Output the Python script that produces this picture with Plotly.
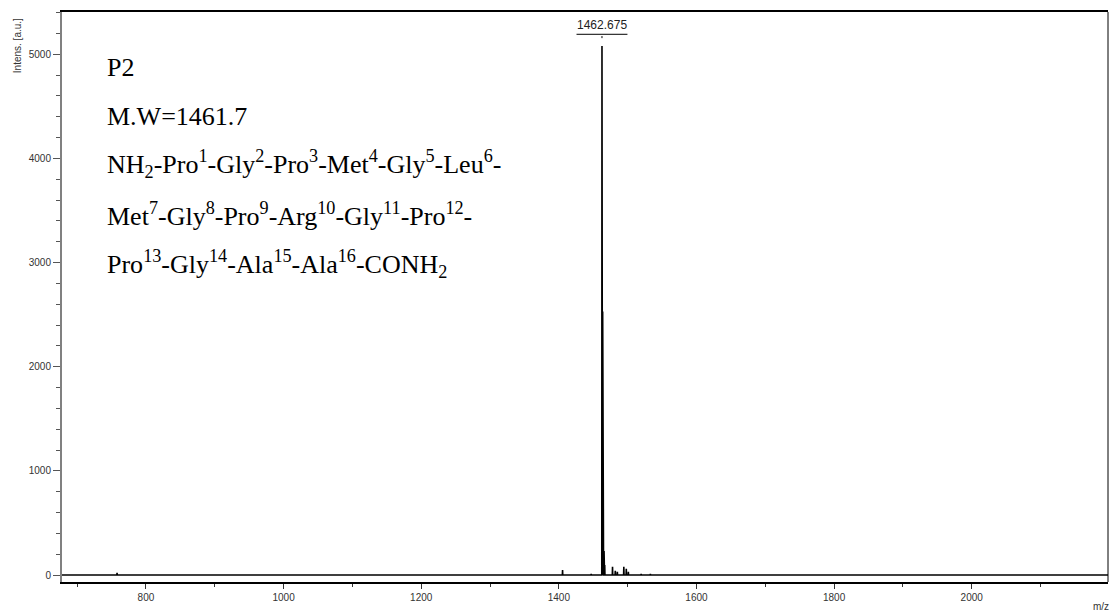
import plotly.graph_objects as go

# ---- data ----
peak_mz = [758.0, 1405.4, 1447.0, 1462.675, 1463.68, 1464.68, 1465.68, 1466.68,
           1478.0, 1482.0, 1485.0, 1494.4, 1498.0, 1501.0, 1519.6, 1533.0]
peak_int = [20, 48, 12, 5080, 2530, 1010, 230, 95,
            80, 40, 30, 80, 60, 30, 12, 10]
mz_range = [678, 2198]
int_range = [-67, 5406]
labelled_peak = "1462.675"
labelled_peak_mz = 1462.675
labelled_peak_int = 5080

text_lines = [
    "P2",
    "M.W=1461.7",
    "NH<sub>2</sub>-Pro<sup>1</sup>-Gly<sup>2</sup>-Pro<sup>3</sup>-Met<sup>4</sup>-Gly<sup>5</sup>-Leu<sup>6</sup>-",
    "Met<sup>7</sup>-Gly<sup>8</sup>-Pro<sup>9</sup>-Arg<sup>10</sup>-Gly<sup>11</sup>-Pro<sup>12</sup>-",
    "Pro<sup>13</sup>-Gly<sup>14</sup>-Ala<sup>15</sup>-Ala<sup>16</sup>-CONH<sub>2</sub>",
]
text_line_px = [68, 116.5, 164, 214, 263.5]

# ---- build stick/profile spectrum from peak list ----
half_w = 0.3
xs = [mz_range[0]]
ys = [0]
for m, h in sorted(zip(peak_mz, peak_int)):
    xs += [m - half_w, m, m + half_w]
    ys += [0, h, 0]
xs.append(mz_range[1])
ys.append(0)

fig = go.Figure()
fig.add_trace(go.Scatter(x=xs, y=ys, mode="lines",
                         line=dict(color="black", width=1.6),
                         hoverinfo="skip", showlegend=False))

W, H = 1113, 612
ml, mr, mt, mb = 62, 5, 12, 30
ph = H - mt - mb

def py(px):
    return 1 - (px - mt) / ph

annotations = []
for t, ypx in zip(text_lines, text_line_px):
    annotations.append(dict(
        text=t, x=(105 - ml) / (W - ml - mr), y=py(ypx),
        xref="paper", yref="paper", xanchor="left", yanchor="middle",
        showarrow=False,
        font=dict(family="Liberation Serif, Times New Roman, serif", size=26, color="black")))

annotations.append(dict(
    text=labelled_peak, x=labelled_peak_mz, y=labelled_peak_int,
    xref="x", yref="y", xanchor="center", yanchor="bottom", yshift=12,
    showarrow=False,
    font=dict(family="Liberation Sans, Arial, sans-serif", size=12, color="#222")))

annotations.append(dict(
    text="Intens. [a.u.]", x=(17.7 - ml) / (W - ml - mr), y=py(45.5),
    xref="paper", yref="paper", xanchor="center", yanchor="middle",
    textangle=-90, showarrow=False,
    font=dict(family="Liberation Sans, Arial, sans-serif", size=10, color="#333")))

annotations.append(dict(
    text="m/z", x=(1101 - ml) / (W - ml - mr), y=py(606),
    xref="paper", yref="paper", xanchor="center", yanchor="middle",
    showarrow=False,
    font=dict(family="Liberation Sans, Arial, sans-serif", size=10, color="#333")))

shapes = [
    # underline of peak label
    dict(type="line", xref="x", yref="y",
         x0=labelled_peak_mz - 37, x1=labelled_peak_mz + 37,
         y0=labelled_peak_int + 112, y1=labelled_peak_int + 112,
         line=dict(color="black", width=1)),
    # small tick from label to peak
    dict(type="line", xref="x", yref="y",
         x0=labelled_peak_mz, x1=labelled_peak_mz,
         y0=labelled_peak_int + 75, y1=labelled_peak_int + 95,
         line=dict(color="black", width=1)),
    # right frame
    dict(type="line", xref="paper", yref="paper", x0=1, x1=1, y0=0, y1=1,
         line=dict(color="black", width=1)),
]

fig.update_layout(
    width=W, height=H,
    margin=dict(l=ml, r=mr, t=mt, b=mb),
    paper_bgcolor="white", plot_bgcolor="white",
    annotations=annotations, shapes=shapes,
    font=dict(family="Liberation Sans, Arial, sans-serif", size=10, color="#333"),
)
fig.update_xaxes(
    range=mz_range, showgrid=False, zeroline=False,
    showline=True, linecolor="black", linewidth=1.5, mirror=True,
    ticks="outside", ticklen=5, tickcolor="#333", tickwidth=1,
    tick0=0, dtick=200,
    minor=dict(ticks="outside", ticklen=3, dtick=100, tickcolor="#333", showgrid=False),
    tickfont=dict(size=10, color="#333"),
)
fig.update_yaxes(
    range=int_range, showgrid=False, zeroline=False,
    showline=True, linecolor="#808080", linewidth=2,
    ticks="outside", ticklen=7, tickcolor="#555", tickwidth=1,
    tick0=0, dtick=1000,
    minor=dict(ticks="outside", ticklen=4, dtick=200, tickcolor="#555", showgrid=False),
    tickfont=dict(size=10, color="#333"),
)

fig.write_html("out.html")
